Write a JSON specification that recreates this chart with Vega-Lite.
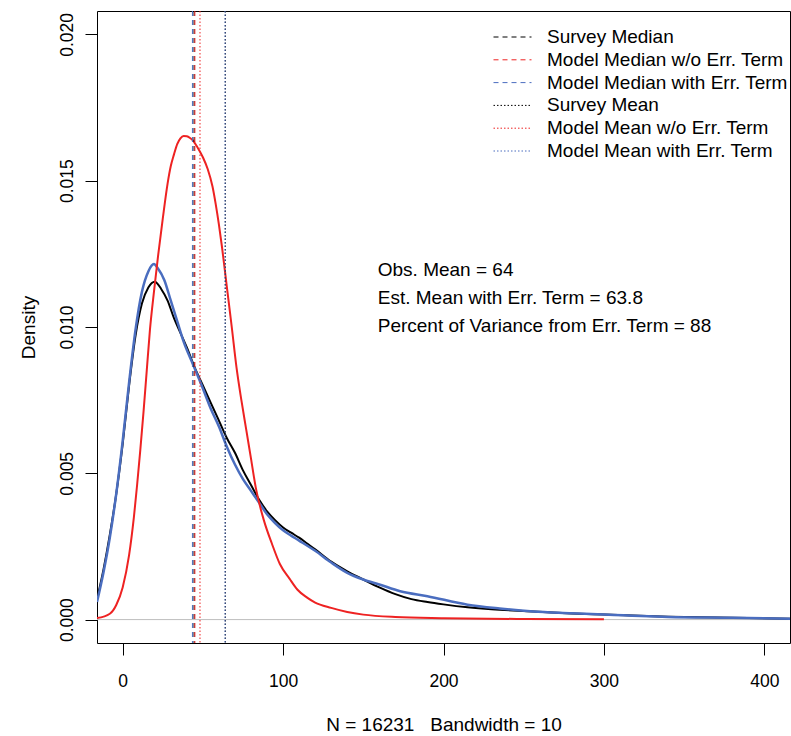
{
  "$schema": "https://vega.github.io/schema/vega-lite/v6.json",
  "width": 693,
  "height": 632,
  "autosize": "none",
  "padding": {"left": 97, "top": 11, "right": 1, "bottom": 93},
  "background": "white",
  "config": {
    "font": "Liberation Sans",
    "view": {"stroke": "black", "strokeWidth": 1},
    "axis": {"grid": false, "domain": false, "tickColor": "black", "tickSize": 12, "labelColor": "black", "labelFontSize": 17.5, "titleFontSize": 19, "titleFontWeight": "normal", "titleColor": "black", "labelFont": "Liberation Sans", "titleFont": "Liberation Sans"}
  },
  "datasets": {
    "curves": [
      {"series": "survey", "x": -16, "density": 0.0007},
      {"series": "survey", "x": -12, "density": 0.0017},
      {"series": "survey", "x": -8, "density": 0.0029},
      {"series": "survey", "x": -4, "density": 0.0043},
      {"series": "survey", "x": 0, "density": 0.0060},
      {"series": "survey", "x": 4, "density": 0.0080},
      {"series": "survey", "x": 8, "density": 0.0097},
      {"series": "survey", "x": 12, "density": 0.0108},
      {"series": "survey", "x": 16, "density": 0.01135},
      {"series": "survey", "x": 20, "density": 0.01155},
      {"series": "survey", "x": 24, "density": 0.0113},
      {"series": "survey", "x": 28, "density": 0.0109},
      {"series": "survey", "x": 32, "density": 0.0103},
      {"series": "survey", "x": 36, "density": 0.0098},
      {"series": "survey", "x": 40, "density": 0.0093},
      {"series": "survey", "x": 45, "density": 0.0086},
      {"series": "survey", "x": 50, "density": 0.0080},
      {"series": "survey", "x": 55, "density": 0.0074},
      {"series": "survey", "x": 60, "density": 0.0068},
      {"series": "survey", "x": 65, "density": 0.0062},
      {"series": "survey", "x": 70, "density": 0.0057},
      {"series": "survey", "x": 75, "density": 0.0051},
      {"series": "survey", "x": 80, "density": 0.0046},
      {"series": "survey", "x": 85, "density": 0.0041},
      {"series": "survey", "x": 90, "density": 0.0037},
      {"series": "survey", "x": 95, "density": 0.0034},
      {"series": "survey", "x": 100, "density": 0.00315},
      {"series": "survey", "x": 105, "density": 0.00297},
      {"series": "survey", "x": 110, "density": 0.0028},
      {"series": "survey", "x": 115, "density": 0.0026},
      {"series": "survey", "x": 120, "density": 0.0024},
      {"series": "survey", "x": 130, "density": 0.00198},
      {"series": "survey", "x": 140, "density": 0.00165},
      {"series": "survey", "x": 150, "density": 0.00137},
      {"series": "survey", "x": 160, "density": 0.0011},
      {"series": "survey", "x": 170, "density": 0.00087},
      {"series": "survey", "x": 180, "density": 0.0007},
      {"series": "survey", "x": 190, "density": 0.0006},
      {"series": "survey", "x": 200, "density": 0.00052},
      {"series": "survey", "x": 215, "density": 0.00042},
      {"series": "survey", "x": 230, "density": 0.00035},
      {"series": "survey", "x": 256, "density": 0.00028},
      {"series": "survey", "x": 280, "density": 0.00021},
      {"series": "survey", "x": 300, "density": 0.00017},
      {"series": "survey", "x": 340, "density": 0.0001},
      {"series": "survey", "x": 380, "density": 0.00006},
      {"series": "survey", "x": 416, "density": 0.00003},
      {"series": "with", "x": -16, "density": 0.0006},
      {"series": "with", "x": -12, "density": 0.0016},
      {"series": "with", "x": -8, "density": 0.0028},
      {"series": "with", "x": -4, "density": 0.0043},
      {"series": "with", "x": 0, "density": 0.0061},
      {"series": "with", "x": 4, "density": 0.0081},
      {"series": "with", "x": 8, "density": 0.0099},
      {"series": "with", "x": 12, "density": 0.0112},
      {"series": "with", "x": 16, "density": 0.0119},
      {"series": "with", "x": 19.5, "density": 0.01215},
      {"series": "with", "x": 22, "density": 0.0120},
      {"series": "with", "x": 26, "density": 0.0116},
      {"series": "with", "x": 30, "density": 0.0109},
      {"series": "with", "x": 34, "density": 0.0102},
      {"series": "with", "x": 38, "density": 0.0095},
      {"series": "with", "x": 44, "density": 0.0087},
      {"series": "with", "x": 50, "density": 0.0079},
      {"series": "with", "x": 55, "density": 0.0072},
      {"series": "with", "x": 60, "density": 0.0066},
      {"series": "with", "x": 65, "density": 0.0059},
      {"series": "with", "x": 70, "density": 0.0053},
      {"series": "with", "x": 75, "density": 0.0048},
      {"series": "with", "x": 80, "density": 0.0044},
      {"series": "with", "x": 85, "density": 0.0040},
      {"series": "with", "x": 90, "density": 0.0036},
      {"series": "with", "x": 95, "density": 0.0033},
      {"series": "with", "x": 100, "density": 0.00305},
      {"series": "with", "x": 105, "density": 0.00287},
      {"series": "with", "x": 110, "density": 0.0027},
      {"series": "with", "x": 120, "density": 0.00235},
      {"series": "with", "x": 130, "density": 0.00195},
      {"series": "with", "x": 140, "density": 0.0016},
      {"series": "with", "x": 150, "density": 0.00137},
      {"series": "with", "x": 160, "density": 0.0012},
      {"series": "with", "x": 173, "density": 0.00097},
      {"series": "with", "x": 190, "density": 0.0008},
      {"series": "with", "x": 215, "density": 0.00051},
      {"series": "with", "x": 235, "density": 0.00038},
      {"series": "with", "x": 256, "density": 0.00028},
      {"series": "with", "x": 280, "density": 0.00022},
      {"series": "with", "x": 300, "density": 0.00017},
      {"series": "with", "x": 340, "density": 0.00009},
      {"series": "with", "x": 380, "density": 0.00006},
      {"series": "with", "x": 416, "density": 0.00003},
      {"series": "without", "x": -16, "density": 0.00005},
      {"series": "without", "x": -8, "density": 0.0002},
      {"series": "without", "x": -4, "density": 0.0005},
      {"series": "without", "x": 0, "density": 0.0011},
      {"series": "without", "x": 4, "density": 0.0022},
      {"series": "without", "x": 7, "density": 0.0035},
      {"series": "without", "x": 9, "density": 0.0046},
      {"series": "without", "x": 11, "density": 0.0058},
      {"series": "without", "x": 13, "density": 0.0071},
      {"series": "without", "x": 15, "density": 0.0085},
      {"series": "without", "x": 17, "density": 0.0099},
      {"series": "without", "x": 19.5, "density": 0.0112},
      {"series": "without", "x": 22, "density": 0.0124},
      {"series": "without", "x": 25, "density": 0.0137},
      {"series": "without", "x": 28, "density": 0.0149},
      {"series": "without", "x": 30, "density": 0.0155},
      {"series": "without", "x": 32, "density": 0.0159},
      {"series": "without", "x": 34, "density": 0.01625},
      {"series": "without", "x": 36, "density": 0.01645},
      {"series": "without", "x": 38, "density": 0.01653},
      {"series": "without", "x": 40, "density": 0.01652},
      {"series": "without", "x": 42, "density": 0.01646},
      {"series": "without", "x": 44, "density": 0.01636},
      {"series": "without", "x": 46.5, "density": 0.01615},
      {"series": "without", "x": 50, "density": 0.0158},
      {"series": "without", "x": 53, "density": 0.0154},
      {"series": "without", "x": 56, "density": 0.0148},
      {"series": "without", "x": 58, "density": 0.0142},
      {"series": "without", "x": 60, "density": 0.0135},
      {"series": "without", "x": 62, "density": 0.0127},
      {"series": "without", "x": 64, "density": 0.0118},
      {"series": "without", "x": 66, "density": 0.0109},
      {"series": "without", "x": 68, "density": 0.0100},
      {"series": "without", "x": 71, "density": 0.0086},
      {"series": "without", "x": 74, "density": 0.0075},
      {"series": "without", "x": 77, "density": 0.0065},
      {"series": "without", "x": 80, "density": 0.0055},
      {"series": "without", "x": 83, "density": 0.0045},
      {"series": "without", "x": 88, "density": 0.0034},
      {"series": "without", "x": 93, "density": 0.0026},
      {"series": "without", "x": 98, "density": 0.0019},
      {"series": "without", "x": 104, "density": 0.0014},
      {"series": "without", "x": 109, "density": 0.00102},
      {"series": "without", "x": 115, "density": 0.00075},
      {"series": "without", "x": 120, "density": 0.00058},
      {"series": "without", "x": 130, "density": 0.0004},
      {"series": "without", "x": 140, "density": 0.00026},
      {"series": "without", "x": 150, "density": 0.00017},
      {"series": "without", "x": 170, "density": 0.00009},
      {"series": "without", "x": 200, "density": 0.00005},
      {"series": "without", "x": 250, "density": 0.00002},
      {"series": "without", "x": 300, "density": 0.00001}
    ],
    "vlines": [
      {"name": "Survey Median", "x": 44.5},
      {"name": "Model Median w/o Err. Term", "x": 45},
      {"name": "Model Median with Err. Term", "x": 43.5},
      {"name": "Survey Mean", "x": 64},
      {"name": "Model Mean w/o Err. Term", "x": 48.2},
      {"name": "Model Mean with Err. Term", "x": 63.8}
    ],
    "notes": [
      {"label": "Obs. Mean = 64", "x": 159, "y": 0.01195},
      {"label": "Est. Mean with Err. Term = 63.8", "x": 159, "y": 0.01099},
      {"label": "Percent of Variance from Err. Term = 88", "x": 159, "y": 0.01003}
    ]
  },
  "encoding": {
    "x": {"type": "quantitative", "scale": {"domain": [-16, 416], "nice": false, "zero": false},
      "axis": {"values": [0, 100, 200, 300, 400], "labelPadding": 17, "title": "N = 16231\u00a0\u00a0 Bandwidth = 10", "titlePadding": 26}},
    "y": {"type": "quantitative", "scale": {"domain": [-0.0008, 0.0208], "nice": false, "zero": false},
      "axis": {"values": [0, 0.005, 0.01, 0.015, 0.02], "format": ".3f", "labelAngle": 270, "labelAlign": "center", "labelBaseline": "bottom", "labelPadding": 9, "title": "Density", "titlePadding": 20}}
  },
  "layer": [
    {
      "data": {"values": [{"y": 0}]},
      "mark": {"type": "rule", "color": "#BEBEBE", "strokeWidth": 1},
      "encoding": {"y": {"field": "y", "type": "quantitative"}}
    },
    {
      "data": {"name": "curves"},
      "transform": [{"filter": "datum.series === 'survey'"}],
      "mark": {"type": "line", "color": "black", "strokeWidth": 2, "clip": true, "interpolate": "monotone"},
      "encoding": {"x": {"field": "x", "type": "quantitative"}, "y": {"field": "density", "type": "quantitative"}}
    },
    {
      "data": {"name": "curves"},
      "transform": [{"filter": "datum.series === 'with'"}],
      "mark": {"type": "line", "color": "#4A6DBF", "strokeWidth": 2.5, "clip": true, "interpolate": "monotone"},
      "encoding": {"x": {"field": "x", "type": "quantitative"}, "y": {"field": "density", "type": "quantitative"}}
    },
    {
      "data": {"name": "curves"},
      "transform": [{"filter": "datum.series === 'without'"}],
      "mark": {"type": "line", "color": "#EE2222", "strokeWidth": 2, "clip": true, "interpolate": "monotone"},
      "encoding": {"x": {"field": "x", "type": "quantitative"}, "y": {"field": "density", "type": "quantitative"}}
    },
    {
      "data": {"name": "vlines"},
      "mark": {"type": "rule", "strokeWidth": 1},
      "encoding": {
        "x": {"field": "x", "type": "quantitative"},
        "color": {"field": "name", "type": "nominal",
          "scale": {"domain": ["Survey Median", "Model Median w/o Err. Term", "Model Median with Err. Term", "Survey Mean", "Model Mean w/o Err. Term", "Model Mean with Err. Term"],
                    "range": ["black", "#EE2222", "#4A6DBF", "black", "#EE2222", "#4A6DBF"]},
          "legend": {"title": null, "orient": "none", "legendX": 396, "legendY": 16.5, "symbolType": "stroke", "symbolSize": 1444, "symbolStrokeWidth": 1, "labelFontSize": 19, "labelColor": "black", "labelOffset": 15, "rowPadding": 2.8, "clipHeight": 19, "padding": 0, "labelLimit": 400}},
        "strokeDash": {"field": "name", "type": "nominal",
          "scale": {"domain": ["Survey Median", "Model Median w/o Err. Term", "Model Median with Err. Term", "Survey Mean", "Model Mean w/o Err. Term", "Model Mean with Err. Term"],
                    "range": [[5, 4], [5, 4], [5, 4], [1.5, 2], [1.5, 2], [1.5, 2]]},
          "legend": {"title": null, "orient": "none", "legendX": 396, "legendY": 16.5, "symbolType": "stroke", "symbolSize": 1444, "symbolStrokeWidth": 1, "labelFontSize": 19, "labelColor": "black", "labelOffset": 15, "rowPadding": 2.8, "clipHeight": 19, "padding": 0, "labelLimit": 400}}
      }
    },
    {
      "data": {"name": "notes"},
      "mark": {"type": "text", "align": "left", "baseline": "middle", "fontSize": 19, "color": "black"},
      "encoding": {
        "x": {"field": "x", "type": "quantitative"},
        "y": {"field": "y", "type": "quantitative"},
        "text": {"field": "label", "type": "nominal"}
      }
    }
  ]
}
